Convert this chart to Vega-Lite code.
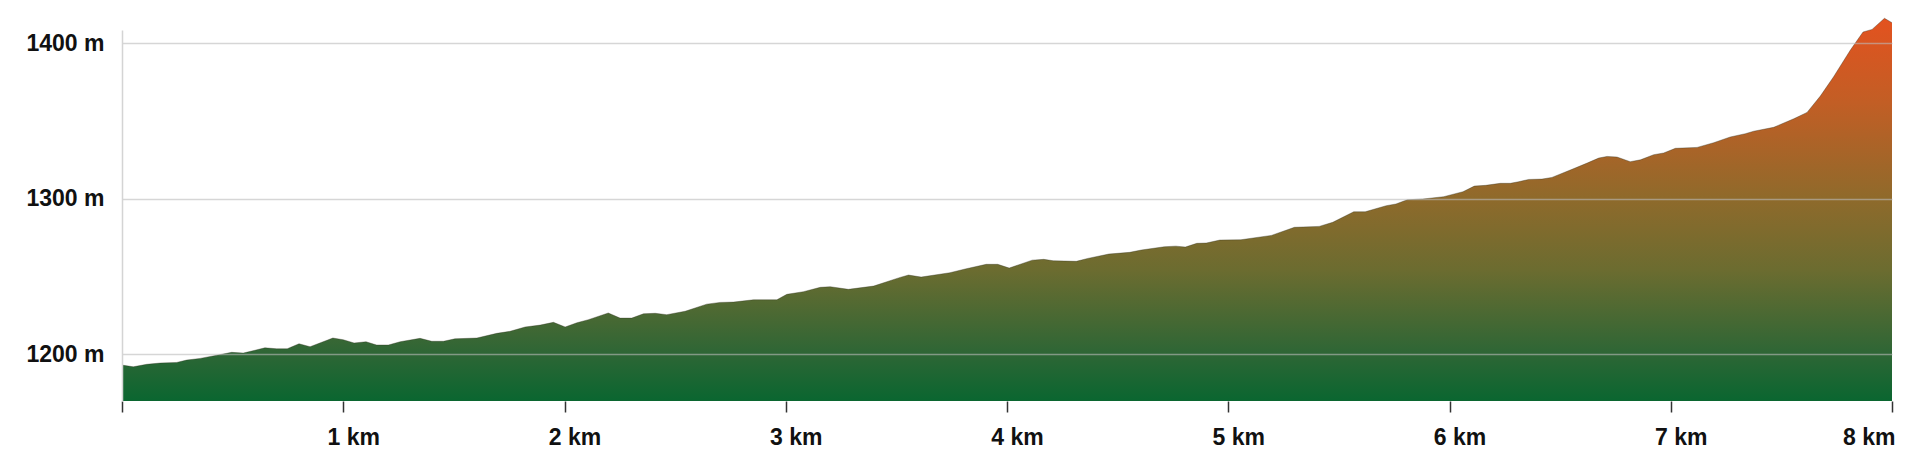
{
  "$schema": "https://vega.github.io/schema/vega-lite/v6.json",
  "width": 1770,
  "height": 371,
  "autosize": {"type": "none"},
  "padding": {"left": 122, "top": 30, "right": 28, "bottom": 62},
  "background": "white",
  "config": {"view": {"stroke": null}, "font": "Liberation Sans"},
  "data": {"values": [
    {"d": 0, "e": 1193.1}, {"d": 0.051, "e": 1192.0}, {"d": 0.112, "e": 1193.6}, {"d": 0.172, "e": 1194.4},
    {"d": 0.247, "e": 1194.8}, {"d": 0.292, "e": 1196.3}, {"d": 0.353, "e": 1197.4}, {"d": 0.428, "e": 1199.4},
    {"d": 0.496, "e": 1201.3}, {"d": 0.548, "e": 1200.8}, {"d": 0.646, "e": 1204.2}, {"d": 0.699, "e": 1203.6},
    {"d": 0.747, "e": 1203.6}, {"d": 0.8, "e": 1206.8}, {"d": 0.85, "e": 1204.9}, {"d": 0.953, "e": 1210.5},
    {"d": 1.0, "e": 1209.4}, {"d": 1.049, "e": 1207.3}, {"d": 1.103, "e": 1208.1}, {"d": 1.151, "e": 1206.0},
    {"d": 1.204, "e": 1206.0}, {"d": 1.257, "e": 1208.1}, {"d": 1.347, "e": 1210.3}, {"d": 1.4, "e": 1208.4},
    {"d": 1.453, "e": 1208.4}, {"d": 1.505, "e": 1210.0}, {"d": 1.604, "e": 1210.5}, {"d": 1.694, "e": 1213.5},
    {"d": 1.754, "e": 1214.8}, {"d": 1.822, "e": 1217.6}, {"d": 1.89, "e": 1218.8}, {"d": 1.95, "e": 1220.6},
    {"d": 2.003, "e": 1217.6}, {"d": 2.056, "e": 1220.3}, {"d": 2.108, "e": 1222.3}, {"d": 2.198, "e": 1226.6},
    {"d": 2.251, "e": 1223.3}, {"d": 2.304, "e": 1223.3}, {"d": 2.357, "e": 1226.1}, {"d": 2.41, "e": 1226.4},
    {"d": 2.462, "e": 1225.5}, {"d": 2.545, "e": 1227.7}, {"d": 2.643, "e": 1232.3}, {"d": 2.703, "e": 1233.4},
    {"d": 2.764, "e": 1233.6}, {"d": 2.854, "e": 1235.1}, {"d": 2.96, "e": 1235.1}, {"d": 3.005, "e": 1238.6},
    {"d": 3.08, "e": 1240.3}, {"d": 3.156, "e": 1243.1}, {"d": 3.201, "e": 1243.5}, {"d": 3.283, "e": 1241.8},
    {"d": 3.397, "e": 1243.9}, {"d": 3.517, "e": 1249.5}, {"d": 3.555, "e": 1251.0}, {"d": 3.612, "e": 1249.7},
    {"d": 3.742, "e": 1252.5}, {"d": 3.811, "e": 1254.9}, {"d": 3.906, "e": 1257.9}, {"d": 3.958, "e": 1257.9},
    {"d": 4.01, "e": 1255.5}, {"d": 4.114, "e": 1260.6}, {"d": 4.166, "e": 1261.1}, {"d": 4.209, "e": 1260.2},
    {"d": 4.313, "e": 1259.8}, {"d": 4.365, "e": 1261.7}, {"d": 4.46, "e": 1264.5}, {"d": 4.555, "e": 1265.6},
    {"d": 4.607, "e": 1267.1}, {"d": 4.711, "e": 1269.2}, {"d": 4.763, "e": 1269.6}, {"d": 4.806, "e": 1269.0},
    {"d": 4.858, "e": 1271.4}, {"d": 4.901, "e": 1271.6}, {"d": 4.962, "e": 1273.5}, {"d": 5.057, "e": 1273.7},
    {"d": 5.195, "e": 1276.5}, {"d": 5.299, "e": 1281.7}, {"d": 5.411, "e": 1282.3}, {"d": 5.472, "e": 1284.9},
    {"d": 5.567, "e": 1291.7}, {"d": 5.619, "e": 1291.7}, {"d": 5.714, "e": 1295.6}, {"d": 5.758, "e": 1296.7},
    {"d": 5.809, "e": 1299.4}, {"d": 5.879, "e": 1299.9}, {"d": 5.974, "e": 1301.4}, {"d": 6.061, "e": 1304.6},
    {"d": 6.112, "e": 1308.2}, {"d": 6.164, "e": 1308.7}, {"d": 6.23, "e": 1310.0}, {"d": 6.275, "e": 1310.0},
    {"d": 6.312, "e": 1311.0}, {"d": 6.358, "e": 1312.5}, {"d": 6.418, "e": 1312.7}, {"d": 6.463, "e": 1313.8},
    {"d": 6.554, "e": 1319.0}, {"d": 6.622, "e": 1323.0}, {"d": 6.674, "e": 1326.2}, {"d": 6.712, "e": 1327.3},
    {"d": 6.757, "e": 1326.9}, {"d": 6.817, "e": 1323.9}, {"d": 6.863, "e": 1325.1}, {"d": 6.923, "e": 1328.4},
    {"d": 6.968, "e": 1329.5}, {"d": 7.021, "e": 1332.5}, {"d": 7.119, "e": 1333.1}, {"d": 7.194, "e": 1336.1},
    {"d": 7.269, "e": 1339.8}, {"d": 7.337, "e": 1341.9}, {"d": 7.375, "e": 1343.5}, {"d": 7.465, "e": 1346.0},
    {"d": 7.556, "e": 1351.5}, {"d": 7.616, "e": 1355.6}, {"d": 7.676, "e": 1366.1}, {"d": 7.736, "e": 1378.5},
    {"d": 7.812, "e": 1395.7}, {"d": 7.869, "e": 1407.3}, {"d": 7.91, "e": 1409.0}, {"d": 7.966, "e": 1416.1},
    {"d": 8.0, "e": 1413.3}
  ]},
  "encoding": {
    "x": {
      "field": "d", "type": "quantitative",
      "scale": {"domain": [0, 8], "nice": false, "zero": false},
      "axis": {
        "title": null, "values": [0, 1, 2, 3, 4, 5, 6, 7, 8],
        "labelExpr": "datum.value == 0 ? '' : datum.value + ' km'",
        "grid": false, "domain": false,
        "ticks": true, "tickSize": 11, "tickColor": "#333333", "tickWidth": 1.5,
        "labelFont": "Liberation Sans", "labelFontSize": 23, "labelFontWeight": "bold", "labelColor": "#111111",
        "labelPadding": 14,
        "labelAlign": {"expr": "datum.value == 8 ? 'right' : 'center'"},
        "labelOffset": {"expr": "datum.value == 8 ? 3 : 10"},
        "labelFlush": false, "labelOverlap": false
      }
    },
    "y": {
      "field": "e", "type": "quantitative",
      "scale": {"domain": [1170, 1408.6], "nice": false, "zero": false},
      "axis": {
        "title": null, "values": [1200, 1300, 1400],
        "labelExpr": "datum.value + ' m'",
        "grid": true, "gridColor": "#bbbbbb", "gridOpacity": 0.6, "gridWidth": 1.5,
        "domain": true, "domainColor": "#d4d4d4", "domainWidth": 1.5,
        "ticks": false, "labelPadding": 18,
        "labelFont": "Liberation Sans", "labelFontSize": 23, "labelFontWeight": "bold", "labelColor": "#111111",
        "zindex": 1
      }
    }
  },
  "layer": [
    {
      "mark": {
        "type": "area", "interpolate": "linear",
        "color": {
          "gradient": "linear", "x1": 0, "y1": 1, "x2": 0, "y2": 0,
          "stops": [
            {"offset": 0, "color": "#0a6630"},
            {"offset": 0.13, "color": "#2f6635"},
            {"offset": 0.34, "color": "#6b6c30"},
            {"offset": 0.53, "color": "#8f6a2b"},
            {"offset": 0.78, "color": "#c25e25"},
            {"offset": 1, "color": "#e3521f"}
          ]
        }
      },
      "encoding": {"y2": {"datum": 1170}}
    },
    {
      "mark": {"type": "line", "interpolate": "linear", "color": "#2a2a1a", "strokeWidth": 1, "opacity": 0.35}
    }
  ]
}
